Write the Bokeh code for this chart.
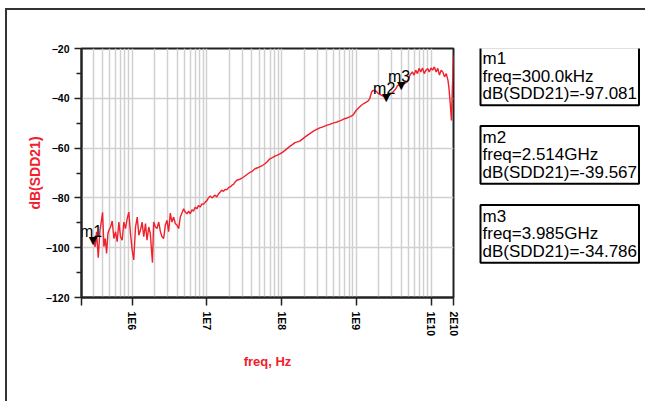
import math
from bokeh.plotting import figure
from bokeh.layouts import row
from bokeh.models import (FixedTicker, CustomJSTickFormatter, Label,
                          ColumnDataSource, Range1d)
from bokeh.core.properties import value
from bokeh.embed import file_html
from bokeh.resources import INLINE

# ---- data ----
freq_hz = [
    3.0e5, 3.21e5, 3.34e5, 3.52e5, 3.71e5, 3.86e5, 4.02e5, 4.19e5, 4.37e5, 4.55e5,
    4.74e5, 4.93e5, 5.14e5, 5.41e5, 5.70e5, 6.0e5, 6.31e5, 6.64e5, 6.99e5, 7.36e5,
    7.74e5, 8.15e5, 8.58e5, 9.03e5, 9.50e5, 1.0e6, 1.05e6, 1.11e6, 1.17e6, 1.23e6,
    1.29e6, 1.36e6, 1.43e6, 1.51e6, 1.58e6, 1.67e6, 1.75e6, 1.87e6, 1.94e6, 2.05e6,
    2.15e6, 2.27e6, 2.39e6, 2.51e6, 2.64e6, 2.78e6, 2.93e6, 3.08e6, 3.24e6, 3.41e6,
    3.59e6, 3.78e6, 3.98e6, 4.19e6, 4.41e6, 4.64e6, 4.89e6, 5.14e6, 5.41e6, 5.70e6,
    6.0e6, 6.31e6, 6.64e6, 6.99e6, 7.36e6, 7.74e6, 8.15e6, 8.58e6, 9.03e6, 9.50e6,
    1.0e7, 1.05e7, 1.11e7, 1.17e7, 1.23e7, 1.29e7, 1.36e7, 1.43e7, 1.51e7, 1.58e7,
    1.67e7, 1.75e7, 1.85e7, 1.95e7, 2.05e7, 2.15e7, 2.27e7, 2.39e7, 2.51e7, 2.78e7,
    3.08e7, 3.41e7, 3.78e7, 4.08e7, 4.41e7, 4.76e7, 5.14e7, 5.55e7, 6.0e7, 6.47e7,
    6.98e7, 7.55e7, 8.15e7, 8.79e7, 9.5e7, 1.026e8, 1.11e8, 1.197e8, 1.29e8, 1.393e8,
    1.51e8, 1.626e8, 1.75e8, 1.897e8, 2.05e8, 2.21e8, 2.39e8, 2.58e8, 2.78e8, 3.0e8,
    3.24e8, 3.5e8, 3.78e8, 4.08e8, 4.41e8, 4.76e8, 5.14e8, 5.55e8, 6.0e8, 6.47e8,
    6.98e8, 7.55e8, 8.15e8, 9.03e8, 1.0e9, 1.08e9, 1.17e9, 1.26e9, 1.36e9, 1.445e9,
    1.52e9, 1.60e9, 1.68e9, 1.83e9, 1.97e9, 2.19e9, 2.43e9, 2.514e9, 2.70e9, 3.00e9,
    3.33e9, 3.58e9, 3.985e9, 4.81e9, 5.22e9, 5.62e9, 5.92e9, 6.24e9, 6.58e9, 6.92e9,
    7.29e9, 7.69e9, 8.11e9, 8.55e9, 9.02e9, 9.48e9, 1.0e10, 1.054e10, 1.109e10, 1.17e10,
    1.233e10, 1.297e10, 1.368e10, 1.442e10, 1.517e10, 1.600e10, 1.687e10, 1.742e10,
    1.816e10, 1.875e10, 1.932e10, 1.977e10, 2.0e10,
]
sdd21_db = [
    -97.08, -99.6, -93.6, -104.0, -93.0, -89.7, -85.8, -99.6, -96.3, -102.3,
    -94.3, -92.7, -91.7, -89.3, -96.3, -93.6, -97.6, -89.7, -95.6, -97.0,
    -89.7, -92.3, -88.3, -85.7, -94.3, -100.9, -104.9, -91.7, -87.7, -95.0,
    -93.0, -89.7, -95.6, -90.3, -97.0, -91.7, -94.3, -106.0, -89.7, -91.7,
    -92.3, -89.7, -93.6, -95.6, -96.3, -91.0, -89.0, -93.6, -86.1, -89.7,
    -87.7, -90.3, -91.0, -92.3, -87.7, -86.1, -84.4, -85.7, -86.4, -85.3,
    -86.4, -84.8, -85.3, -83.7, -84.4, -83.0, -83.7, -82.4, -82.6, -81.7,
    -81.1, -80.0, -79.2, -80.0, -79.4, -78.9, -79.6, -78.4, -77.6, -76.9,
    -77.4, -76.6, -76.8, -75.9, -75.6, -75.0, -74.6, -73.6, -72.9, -72.5,
    -71.7, -70.7, -69.7, -69.2, -68.3, -67.9, -67.4, -67.0, -66.3, -65.4,
    -64.3, -63.8, -63.2, -62.8, -62.3, -61.7, -60.9, -60.1, -59.3, -58.6,
    -57.8, -57.5, -57.2, -56.4, -55.6, -54.9, -54.2, -53.5, -52.9, -52.4,
    -51.9, -51.6, -51.2, -50.8, -50.5, -50.1, -49.8, -49.5, -49.1, -48.7,
    -48.2, -47.9, -47.5, -46.8, -44.8, -43.8, -42.8, -42.1, -41.5, -41.0,
    -40.0, -37.5, -36.8, -37.1, -38.1, -38.8, -39.5, -39.567, -38.8, -37.9,
    -36.5, -34.8, -34.786, -33.4, -30.7, -29.4, -30.7, -28.7, -30.1, -28.0,
    -29.4, -27.8, -30.1, -28.7, -28.0, -29.4, -27.8, -28.7, -27.4, -29.4,
    -28.0, -30.7, -28.7, -29.5, -31.4, -30.1, -32.8, -36.1,
    -42.8, -48.9, -36.0, -28.0, -22.7,
]

x_tick_values = [2.1e5, 1e6, 1e7, 1e8, 1e9, 1e10, 2e10]
x_tick_labels = ["", "1E6", "1E7", "1E8", "1E9", "1E10", "2E10"]
y_tick_values = [-120, -100, -80, -60, -40, -20]
y_minor_values = [-110, -90, -70, -50, -30]
y_grid_values = [-100, -80, -60, -40]
x_grid_values = [m * 10 ** k for k in range(5, 11) for m in range(1, 10)
                 if 2.1e5 < m * 10 ** k < 2e10]

marker_names = ["m1", "m2", "m3"]
marker_freq = [3.0e5, 2.514e9, 3.985e9]
marker_db = [-97.081, -39.567, -34.786]
marker_freq_text = ["300.0kHz", "2.514GHz", "3.985GHz"]
marker_db_text = ["-97.081", "-39.567", "-34.786"]

FONT = "Liberation Sans"
RED = "#f0202c"
DARK = "#222222"

# ---- main chart ----
p = figure(width=456, height=391, x_axis_type="log",
           x_range=Range1d(2.1e5, 2e10), y_range=Range1d(-120, -20),
           output_backend="svg", toolbar_location=None,
           min_border_left=74, min_border_right=10,
           min_border_top=38, min_border_bottom=104)
p.background_fill_color = "white"
p.border_fill_color = "white"
p.outline_line_color = DARK
p.outline_line_width = 2

xa = p.xaxis[0]
xa.ticker = FixedTicker(ticks=x_tick_values, minor_ticks=[])
xa.formatter = CustomJSTickFormatter(
    args=dict(vals=x_tick_values, labs=x_tick_labels),
    code="""
const i = vals.findIndex(v => Math.abs(v - tick) / v < 1e-6);
return i >= 0 ? labs[i] : '';
""")
xa.major_label_orientation = -math.pi / 2
xa.major_tick_out = 8
xa.major_tick_in = 0
xa.minor_tick_out = 0
xa.minor_tick_in = 0
xa.major_label_standoff = 6
xa.axis_line_width = 2
xa.axis_line_color = DARK
xa.major_tick_line_width = 1.5
xa.major_tick_line_color = DARK
xa.major_label_text_font = FONT
xa.major_label_text_font_style = "bold"
xa.major_label_text_font_size = "10.5px"
xa.major_label_text_color = "black"
xa.axis_label = "freq, Hz"
xa.axis_label_text_font = FONT
xa.axis_label_text_font_style = "bold"
xa.axis_label_text_font_size = "13px"
xa.axis_label_text_color = RED
xa.axis_label_standoff = 15

ya = p.yaxis[0]
ya.ticker = FixedTicker(ticks=y_tick_values, minor_ticks=y_minor_values)
ya.major_tick_out = 7
ya.major_tick_in = 0
ya.minor_tick_out = 5
ya.minor_tick_in = 0
ya.major_label_standoff = 5
ya.axis_line_width = 2
ya.axis_line_color = DARK
ya.major_tick_line_width = 1.5
ya.minor_tick_line_width = 1.5
ya.major_tick_line_color = DARK
ya.minor_tick_line_color = DARK
ya.major_label_text_font = FONT
ya.major_label_text_font_style = "bold"
ya.major_label_text_font_size = "10.5px"
ya.major_label_text_color = "black"
ya.axis_label = "dB(SDD21)"
ya.axis_label_text_font = FONT
ya.axis_label_text_font_style = "bold"
ya.axis_label_text_font_size = "14px"
ya.axis_label_text_color = RED
ya.axis_label_standoff = 0

p.xgrid.ticker = FixedTicker(ticks=x_grid_values)
p.xgrid.grid_line_color = "#d0d0d0"
p.xgrid.grid_line_width = 1.5
p.ygrid.ticker = FixedTicker(ticks=y_grid_values)
p.ygrid.grid_line_color = "#d0d0d0"
p.ygrid.grid_line_width = 1.5

src = ColumnDataSource(data=dict(freq=freq_hz, db=sdd21_db))
p.line(x="freq", y="db", source=src, line_color=RED, line_width=1.4)

msrc = ColumnDataSource(data=dict(freq=marker_freq, db=marker_db, name=marker_names,
                                  tri=["\u25BC"] * len(marker_names)))
p.text(x="freq", y="db", text="tri", source=msrc, text_align="center",
       text_baseline="alphabetic", text_font=value("DejaVu Sans"),
       text_font_size="11px", text_color="black")
p.text(x="freq", y="db", text="name", source=msrc, text_align="center",
       text_baseline="alphabetic", y_offset=-9, x_offset=-2,
       text_font=value(FONT), text_font_size="16px", text_color="black")

# ---- marker read-out panel (its frame is aligned with the main frame) ----
p2 = figure(width=182, height=391, x_range=Range1d(0, 1), y_range=Range1d(0, 1),
            output_backend="svg", toolbar_location=None,
            x_axis_location=None, y_axis_location=None,
            min_border_left=0, min_border_right=0,
            min_border_top=0, min_border_bottom=0)
p2.grid.visible = False
p2.outline_line_color = None
p2.background_fill_color = "white"
p2.border_fill_color = "white"

box_tops = [250.3, 171.6, 92.6]
for name, ftxt, dtxt, top in zip(marker_names, marker_freq_text, marker_db_text, box_tops):
    lab = Label(x=17, y=top, x_units="screen", y_units="screen",
                text=f"{name}\nfreq={ftxt}\ndB(SDD21)={dtxt}",
                text_font=FONT, text_font_size="17px", text_line_height=0.92,
                text_align="left", text_baseline="top", text_color="black",
                border_line_color="black", border_line_width=2,
                background_fill_color="white", padding=2)
    p2.add_layout(lab)

layout = row(p, p2, spacing=0, margin=(8, 0, 0, 5),
             styles={"border-top": "2px solid #333333",
                     "border-left": "2px solid #333333"})

open("out.html", "w").write(file_html(layout, INLINE))
